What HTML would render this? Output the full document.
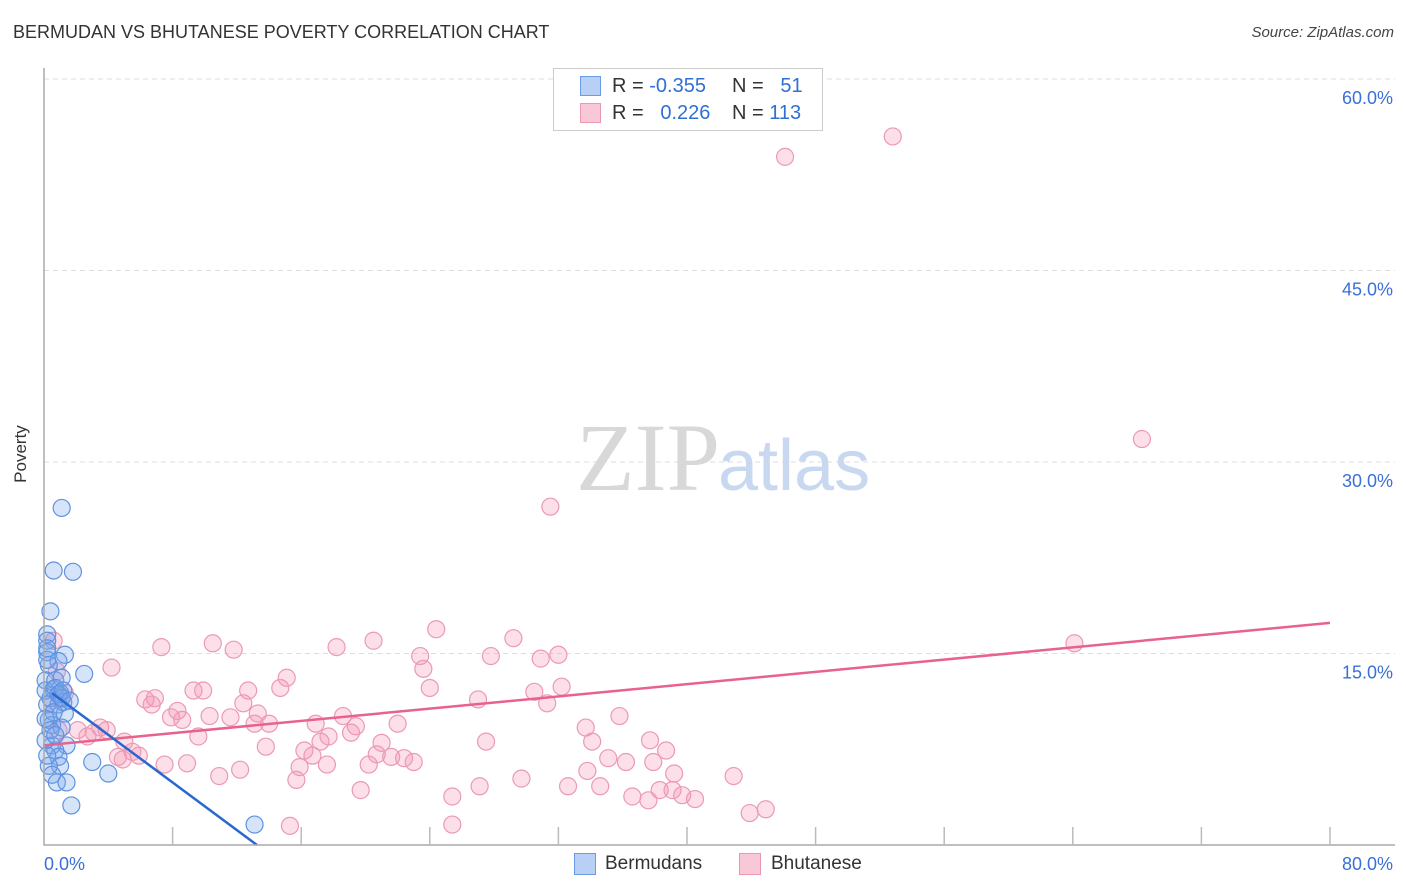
<!DOCTYPE html>
<html><head><meta charset="utf-8"><style>
body{margin:0;background:#fff;font-family:"Liberation Sans",sans-serif;}
#wrap{position:relative;width:1406px;height:892px;overflow:hidden;}
.t{position:absolute;white-space:nowrap;}
</style></head><body>
<div id="wrap">
<div class="t" style="left:13px;top:22px;font-size:18px;color:#333;">BERMUDAN VS BHUTANESE POVERTY CORRELATION CHART</div>
<div class="t" style="right:12px;top:24px;font-size:15px;color:#444;font-style:italic;">Source: ZipAtlas.com</div>
<svg id="svg" width="1406" height="892" style="position:absolute;left:0;top:0">
<g id="grid"></g>
<text x="720" y="490" text-anchor="end" font-family="Liberation Serif,serif" font-size="96" fill="#d8d8d8">ZIP</text>
<text x="718" y="490" font-family="Liberation Sans,sans-serif" font-size="72" fill="#c8d8f0">atlas</text>
<g id="pts"></g>
<g id="lines"></g>
<g id="axes"></g>
</svg>
<div class="t" style="left:-8px;top:444px;font-size:17px;color:#333;transform:rotate(-90deg);">Poverty</div>
<div style="position:absolute;left:553px;top:68px;width:268px;height:61px;border:1px solid #ccc;background:#fff;">
  <div style="position:absolute;left:26px;top:7px;width:19px;height:18px;background:#b8d0f5;border:1px solid #6a9be6;"></div>
  <div style="position:absolute;left:26px;top:34px;width:19px;height:18px;background:#f8c8d6;border:1px solid #ec98b2;"></div>
  <div class="t" style="left:58px;top:6px;font-size:20px;color:#333;">R = <span style="color:#2f6fd6">-0.355</span></div>
  <div class="t" style="left:178px;top:6px;font-size:20px;color:#333;">N = &nbsp;&nbsp;<span style="color:#2f6fd6">51</span></div>
  <div class="t" style="left:58px;top:33px;font-size:20px;color:#333;">R = &nbsp;&nbsp;<span style="color:#2f6fd6">0.226</span></div>
  <div class="t" style="left:178px;top:33px;font-size:20px;color:#333;">N = <span style="color:#2f6fd6">113</span></div>
</div>
<div style="position:absolute;left:574px;top:853px;width:20px;height:20px;background:#b8d0f5;border:1px solid #6a9be6;"></div>
<div class="t" style="left:605px;top:853px;font-size:19px;color:#333;">Bermudans</div>
<div style="position:absolute;left:739px;top:853px;width:20px;height:20px;background:#f8c8d6;border:1px solid #ec98b2;"></div>
<div class="t" style="left:771px;top:853px;font-size:19px;color:#333;">Bhutanese</div>
</div>
<script>
const yTicks=[15,30,45,60];
const yTickLabels=["15.0%","30.0%","45.0%","60.0%"];
const xLabels=["0.0%","80.0%"];
const pinkX=[46.1,52.8,68.3,31.5,64.1,24.4,29.2,20.5,18.2,10.5,11.8,7.3,23.4,32.0,30.9,27.8,4.2,23.6,15.1,24.0,32.2,12.7,14.7,9.3,9.9,6.3,6.9,6.7,27.0,30.5,31.3,8.3,7.9,8.6,10.3,11.6,12.4,13.3,14.0,13.1,18.6,16.9,19.4,22.0,35.8,33.7,3.5,3.9,2.1,3.1,2.7,5.0,5.5,5.9,9.6,13.8,17.2,17.7,19.1,21.0,27.5,34.1,37.7,38.7,16.2,16.7,20.7,21.6,22.4,23.0,8.9,7.5,4.6,4.9,15.9,17.6,20.2,35.1,36.2,37.9,33.8,39.2,42.9,10.9,12.2,15.7,29.7,27.1,32.6,34.6,19.7,25.4,36.6,38.3,37.6,39.1,39.7,40.5,43.9,44.9,15.3,25.4,1.1,1.3,0.6,0.8,0.5,0.9];
const pinkY=[53.9,55.5,31.8,26.5,15.8,16.9,16.2,16.0,15.5,15.8,15.3,15.5,14.8,14.9,14.6,14.8,13.9,13.8,13.1,12.3,12.4,12.1,12.3,12.1,12.1,11.4,11.5,11.0,11.4,12.0,11.1,10.5,10.0,9.8,10.1,10.0,11.1,10.3,9.5,9.5,10.1,9.5,9.3,9.5,10.1,9.2,9.2,9.0,9.0,8.8,8.5,8.1,7.3,7.0,8.5,7.7,8.1,8.5,8.8,8.0,8.1,8.1,8.2,7.4,7.4,7.0,7.1,6.9,6.8,6.5,6.4,6.3,6.9,6.7,6.1,6.3,6.3,6.8,6.5,6.5,5.8,5.6,5.4,5.4,5.9,5.1,5.2,4.6,4.6,4.6,4.3,3.8,3.8,4.3,3.5,4.3,3.9,3.6,2.5,2.8,1.5,1.6,11.6,11.9,16.0,13.6,11.3,9.0];
const blueX=[1.1,0.6,1.8,0.4,0.2,0.2,0.2,1.3,2.5,0.9,0.3,0.6,1.0,0.4,0.9,1.3,0.3,0.5,1.1,1.4,0.5,0.7,3.0,4.0,0.9,1.0,0.3,0.5,0.8,1.4,1.7,13.1,0.1,0.1,0.7,0.2,0.1,0.2,1.1,0.7,1.2,0.6,0.2,0.2,0.9,0.4,0.7,1.1,0.1,1.2,1.6];
const blueY=[26.4,21.5,21.4,18.3,16.5,16.0,15.1,14.9,13.4,14.4,14.1,12.2,11.9,11.5,11.0,10.3,9.8,9.4,9.2,7.8,7.8,7.4,6.5,5.6,6.9,6.2,6.2,5.5,4.9,4.9,3.1,1.6,12.9,12.1,12.9,11.0,8.2,7.0,13.1,12.3,11.2,10.4,14.5,15.4,11.8,9.0,8.6,11.5,9.9,12.1,11.3];
const pinkTrend=[0,7.8,80,17.4];
const blueTrend=[0.5,11.9,13.25,0];
const NS="http://www.w3.org/2000/svg";
const X0=44,X1=1330,Y0=845,YTOP60=79;
const sx=v=>X0+v/80*(X1-X0);
const sy=v=>Y0-v/60*(Y0-YTOP60);
function mk(tag,attrs,parent){const e=document.createElementNS(NS,tag);for(const k in attrs)e.setAttribute(k,attrs[k]);parent.appendChild(e);return e;}
const grid=document.getElementById('grid'),axes=document.getElementById('axes'),pts=document.getElementById('pts'),lines=document.getElementById('lines');
yTicks.forEach((t,i)=>{
  const l=mk('line',{x1:X0,x2:1395,y1:sy(t),y2:sy(t),stroke:'#ddd','stroke-dasharray':'5,4'},grid);
  
  
  const tx=mk('text',{x:1393,y:sy(t)+25,'text-anchor':'end','font-size':18,fill:'#3a6fd8','font-family':'Liberation Sans,sans-serif'},axes);
  tx.textContent=yTickLabels[i];
  
  
});
const ax=mk('path',{d:`M${X0} 68 V${Y0} H1395`,fill:'none',stroke:'#aaa','stroke-width':1.5},axes);


for(let i=1;i<=10;i++){
  const x=sx(i*8);
  const tk=mk('line',{x1:x,x2:x,y1:827,y2:Y0,stroke:'#bbb','stroke-width':1.5},axes);
  
  
}
[[xLabels[0],44,'start'],[xLabels[1],1393,'end']].forEach(([s,x,a])=>{
  const t=mk('text',{x:x,y:870,'text-anchor':a,'font-size':18,fill:'#3a6fd8','font-family':'Liberation Sans,sans-serif'},axes);
  t.textContent=s;
  
  
});
pinkX.forEach((v,i)=>{
  const c=mk('circle',{cx:sx(v),cy:sy(pinkY[i]),r:8.5,fill:'rgba(244,150,180,0.3)',stroke:'#eb9ab4','stroke-width':1.2},pts);
  
  
});
blueX.forEach((v,i)=>{
  const c=mk('circle',{cx:sx(v),cy:sy(blueY[i]),r:8.5,fill:'rgba(120,165,235,0.3)',stroke:'#5f92e0','stroke-width':1.2},pts);
  
  
});
const pl=mk('line',{x1:sx(pinkTrend[0]),y1:sy(pinkTrend[1]),x2:sx(pinkTrend[2]),y2:sy(pinkTrend[3]),stroke:'#e8628e','stroke-width':2.5},lines);


const bl=mk('line',{x1:sx(blueTrend[0]),y1:sy(blueTrend[1]),x2:sx(blueTrend[2]),y2:sy(blueTrend[3]),stroke:'#2a68d0','stroke-width':2.5},lines);


</script>
</body></html>
